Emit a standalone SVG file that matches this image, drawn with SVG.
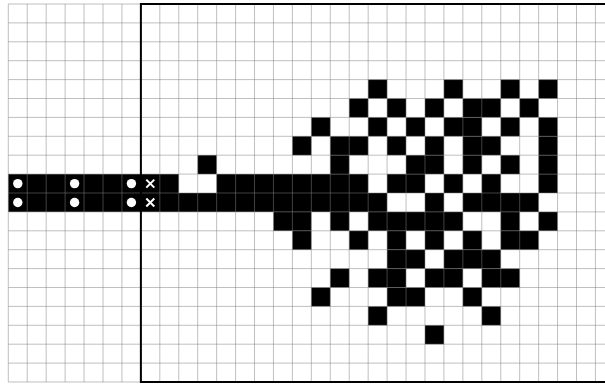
<svg xmlns="http://www.w3.org/2000/svg" width="605" height="385" viewBox="0 0 605 385">
<style>
.grid{fill:none;stroke:#808080;stroke-opacity:0.5;stroke-width:1}
.border{fill:none;stroke:#000;stroke-width:2}
.dot{fill:#fff}
.cross{stroke:#fff;stroke-width:2;stroke-linecap:butt}
</style>
<rect width="605" height="385" fill="#fff"/>
<g id="board" transform="translate(8.3 4) scale(18.94 18.9)">
<g id="cells" fill="#000">
<rect x="19" y="4" width="1" height="1"/><rect x="23" y="4" width="1" height="1"/><rect x="26" y="4" width="1" height="1"/><rect x="28" y="4" width="1" height="1"/>
<rect x="18" y="5" width="1" height="1"/><rect x="20" y="5" width="1" height="1"/><rect x="22" y="5" width="1" height="1"/><rect x="24" y="5" width="2" height="1"/><rect x="27" y="5" width="1" height="1"/>
<rect x="16" y="6" width="1" height="1"/><rect x="19" y="6" width="1" height="1"/><rect x="21" y="6" width="1" height="1"/><rect x="23" y="6" width="2" height="1"/><rect x="26" y="6" width="1" height="1"/><rect x="28" y="6" width="1" height="1"/>
<rect x="15" y="7" width="1" height="1"/><rect x="17" y="7" width="2" height="1"/><rect x="20" y="7" width="1" height="1"/><rect x="22" y="7" width="1" height="1"/><rect x="24" y="7" width="2" height="1"/><rect x="28" y="7" width="1" height="1"/>
<rect x="10" y="8" width="1" height="1"/><rect x="17" y="8" width="1" height="1"/><rect x="21" y="8" width="2" height="1"/><rect x="24" y="8" width="1" height="1"/><rect x="26" y="8" width="1" height="1"/><rect x="28" y="8" width="1" height="1"/>
<rect x="0" y="9" width="9" height="1"/><rect x="11" y="9" width="8" height="1"/><rect x="20" y="9" width="2" height="1"/><rect x="23" y="9" width="1" height="1"/><rect x="25" y="9" width="1" height="1"/><rect x="28" y="9" width="1" height="1"/>
<rect x="0" y="10" width="20" height="1"/><rect x="22" y="10" width="1" height="1"/><rect x="24" y="10" width="4" height="1"/>
<rect x="14" y="11" width="2" height="1"/><rect x="17" y="11" width="1" height="1"/><rect x="19" y="11" width="5" height="1"/><rect x="26" y="11" width="1" height="1"/><rect x="28" y="11" width="1" height="1"/>
<rect x="15" y="12" width="1" height="1"/><rect x="18" y="12" width="1" height="1"/><rect x="20" y="12" width="1" height="1"/><rect x="22" y="12" width="1" height="1"/><rect x="24" y="12" width="1" height="1"/><rect x="26" y="12" width="2" height="1"/>
<rect x="20" y="13" width="2" height="1"/><rect x="23" y="13" width="3" height="1"/>
<rect x="17" y="14" width="1" height="1"/><rect x="19" y="14" width="2" height="1"/><rect x="22" y="14" width="2" height="1"/><rect x="25" y="14" width="2" height="1"/>
<rect x="16" y="15" width="1" height="1"/><rect x="20" y="15" width="2" height="1"/><rect x="24" y="15" width="1" height="1"/>
<rect x="19" y="16" width="1" height="1"/><rect x="25" y="16" width="1" height="1"/>
<rect x="22" y="17" width="1" height="1"/>
</g>
<path class="grid" vector-effect="non-scaling-stroke" d="M0 0V20M1 0V20M2 0V20M3 0V20M4 0V20M5 0V20M6 0V20M7 0V20M8 0V20M9 0V20M10 0V20M11 0V20M12 0V20M13 0V20M14 0V20M15 0V20M16 0V20M17 0V20M18 0V20M19 0V20M20 0V20M21 0V20M22 0V20M23 0V20M24 0V20M25 0V20M26 0V20M27 0V20M28 0V20M29 0V20M30 0V20M31 0V20M0 0H32M0 1H32M0 2H32M0 3H32M0 4H32M0 5H32M0 6H32M0 7H32M0 8H32M0 9H32M0 10H32M0 11H32M0 12H32M0 13H32M0 14H32M0 15H32M0 16H32M0 17H32M0 18H32M0 19H32M0 20H32"/>
<path class="border" vector-effect="non-scaling-stroke" d="M32 0H7V20H32"/>
</g>
<g id="marks">
<circle class="dot" cx="17.8" cy="183.6" r="4.7"/>
<circle class="dot" cx="74.6" cy="183.6" r="4.7"/>
<circle class="dot" cx="131.4" cy="183.6" r="4.7"/>
<circle class="dot" cx="17.8" cy="202.5" r="4.7"/>
<circle class="dot" cx="74.6" cy="202.5" r="4.7"/>
<circle class="dot" cx="131.4" cy="202.5" r="4.7"/>
<path class="cross" d="M146.3 179.6l8 8M154.3 179.6l-8 8M146.3 198.5l8 8M154.3 198.5l-8 8"/>
</g>
</svg>
